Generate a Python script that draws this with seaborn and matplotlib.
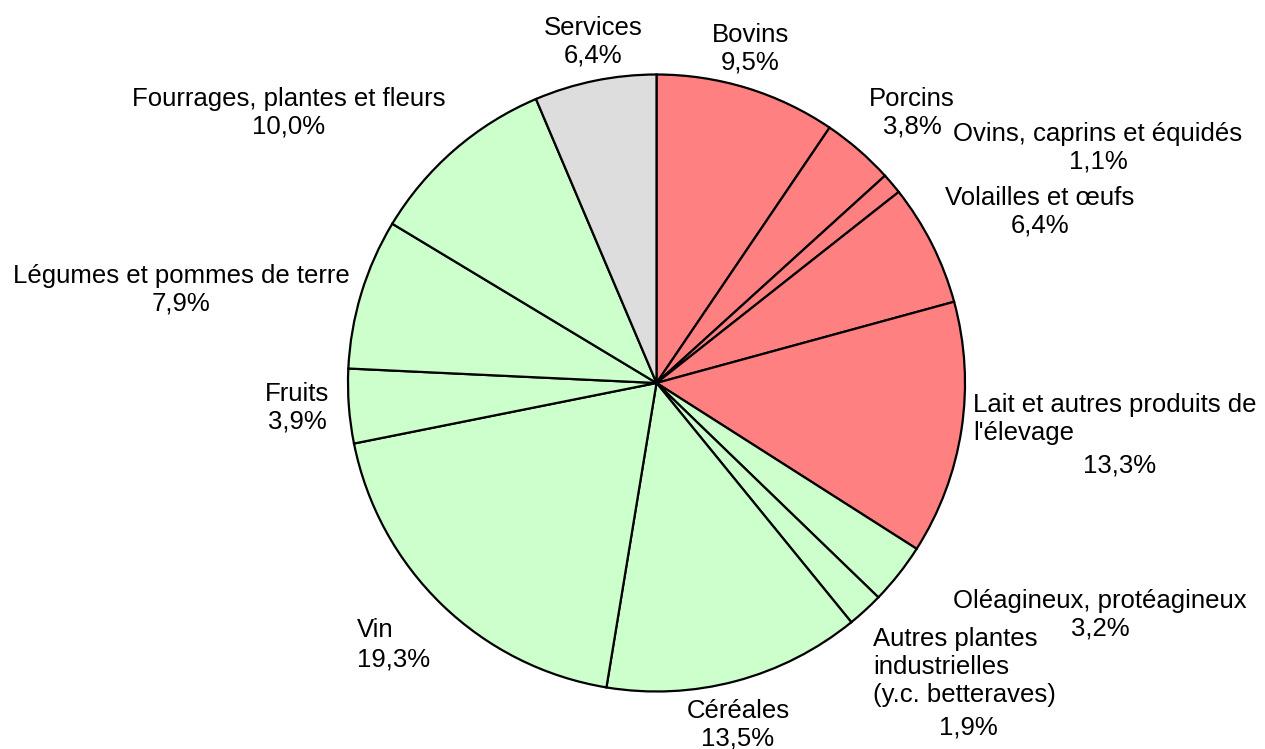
import matplotlib.pyplot as plt
import seaborn as sns

# Répartition de la production agricole (en %)
categories = ["Bovins", "Porcins", "Ovins, caprins et équidés", "Volailles et œufs",
              "Lait et autres produits de l'élevage", "Oléagineux, protéagineux",
              "Autres plantes industrielles (y.c. betteraves)", "Céréales", "Vin",
              "Fruits", "Légumes et pommes de terre", "Fourrages, plantes et fleurs",
              "Services"]
shares = [9.5, 3.8, 1.1, 6.4, 13.3, 3.2, 1.9, 13.5, 19.3, 3.9, 7.9, 10.0, 6.4]
groups = ["animal"] * 5 + ["vegetal"] * 7 + ["services"]

group_colors = {"animal": "#FF8080", "vegetal": "#CCFFCC", "services": "#DDDDDD"}

W, H = 1265, 749

sns.set_theme(style="white")
plt.rcParams['font.family'] = ['Liberation Sans', 'DejaVu Sans']

fig = plt.figure(figsize=(W / 100, H / 100), dpi=100)
ax = fig.add_axes([0, 0, 1, 1])

colors = [group_colors[g] for g in groups]
ax.pie(shares, colors=colors, startangle=90, counterclock=False,
       center=(656.5, H - 383), radius=308.5, frame=True,
       wedgeprops=dict(edgecolor='black', linewidth=1.6))
ax.set_xlim(0, W)
ax.set_ylim(0, H)
ax.set_aspect('equal')
ax.axis('off')


def pct(v):
    return f"{v:.1f}".replace('.', ',') + '%'


# label layout: (x, y in pixels from top, horizontal alignment)
fs = 18.5
def put(txt, x, y, ha='center'):
    ax.text(x, H - y, txt, ha=ha, va='center', fontsize=fs, color='black',
            linespacing=1.2)

put(f"{categories[0]}\n{pct(shares[0])}", 750, 49)
put(f"{categories[1]}\n{pct(shares[1])}", 912, 113)
put(f"{categories[2]}\n{pct(shares[2])}", 1098, 148)
put(f"{categories[3]}\n{pct(shares[3])}", 1040, 212)
put("Lait et autres produits de\nl'élevage", 973, 419, ha='left')
put(pct(shares[4]), 1120, 465)
put(f"{categories[5]}\n{pct(shares[5])}", 1100, 615)
put("Autres plantes\nindustrielles\n(y.c. betteraves)", 873, 667, ha='left')
put(pct(shares[6]), 968, 727)
put(f"{categories[7]}\n{pct(shares[7])}", 738, 725)
put(f"{categories[8]}", 357, 630, ha='left')
put(pct(shares[8]), 357, 660, ha='left')
put(f"{categories[9]}\n{pct(shares[9])}", 297, 408)
put(f"{categories[10]}\n{pct(shares[10])}", 181, 290)
put(f"{categories[11]}\n{pct(shares[11])}", 289, 113)
put(f"{categories[12]}\n{pct(shares[12])}", 593, 42)

fig.savefig('out.png', dpi=100)
